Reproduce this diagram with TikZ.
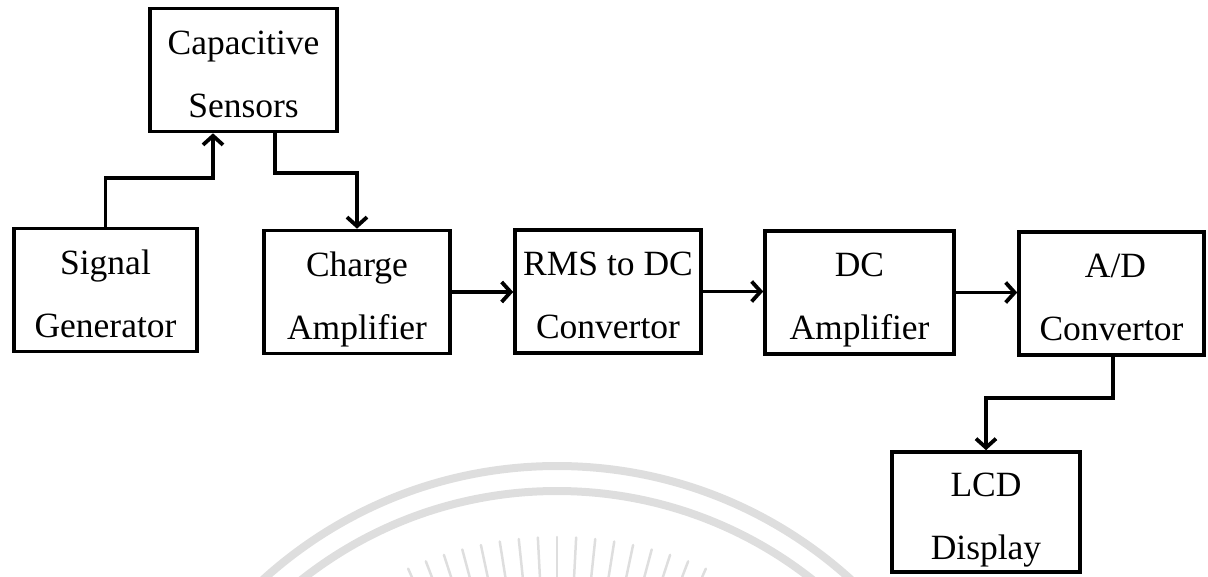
\documentclass[tikz,border=0pt]{standalone}
\usepackage{fontspec}
\setmainfont{Liberation Serif}
\usetikzlibrary{arrows.meta}
\begin{document}
\begin{tikzpicture}[x=1pt,y=-1pt,
  blk/.style={draw=black, line width=3.6pt, rectangle, inner sep=0pt, minimum width=#1, minimum height=123pt},
  blk/.default=188pt,
  txt/.style={font=\fontsize{35.5}{42}\selectfont, inner sep=0pt, anchor=base},
  arr/.style={draw=black, line width=3.8pt, -{Straight Barb[length=9pt,width=20pt]}},
  wm/.style={draw=black!13, line width=8pt},
  ray/.style={draw=black!13, line width=2.5pt, line cap=round}]
\useasboundingbox (0,0) rectangle (1208,576);
% watermark
\begin{scope}
  \clip (0,0) rectangle (1208,576);
  \coordinate (wc) at (557,903);
  \draw[wm] ([shift={(180:437)}]wc) arc[start angle=180, end angle=360, radius=437];
  \draw[wm] ([shift={(180:412)}]wc) arc[start angle=180, end angle=360, radius=412];
  \foreach \a in {246,249,...,294}
    \draw[ray] ([shift={(\a:322)}]wc) -- ([shift={(\a:366)}]wc);
\end{scope}
% boxes
\node[blk=187pt] (cap) at (243.5,70) {};
\node[blk=183pt] (sig) at (105.5,290) {};
\node[blk=186pt] (chg) at (357,292) {};
\node[blk=186pt] (rms) at (608,291.5) {};
\node[blk=189pt] (dca) at (859.5,292.5) {};
\node[blk=185pt] (adc) at (1111.5,293.5) {};
\node[blk=188pt, minimum height=120pt] (lcd) at (986,512) {};
% texts
\node[txt] (cap1) at ([yshift=16pt]cap.center) {Capacitive};
\node[txt] (cap2) at ([yshift=-47pt]cap.center) {Sensors};
\node[txt] (sig1) at ([yshift=16pt]sig.center) {Signal};
\node[txt] (sig2) at ([yshift=-47pt]sig.center) {Generator};
\node[txt] (chg1) at ([yshift=16pt]chg.center) {Charge};
\node[txt] (chg2) at ([yshift=-47pt]chg.center) {Amplifier};
\node[txt] (rms1) at ([yshift=16pt]rms.center) {RMS to DC};
\node[txt] (rms2) at ([yshift=-47pt]rms.center) {Convertor};
\node[txt] (dca1) at ([yshift=16pt]dca.center) {DC};
\node[txt] (dca2) at ([yshift=-47pt]dca.center) {Amplifier};
\node[txt] (adc1) at ([yshift=16pt,xshift=4pt]adc.center) {A/D};
\node[txt] (adc2) at ([yshift=-47pt]adc.center) {Convertor};
\node[txt] (lcd1) at ([yshift=16pt]lcd.center) {LCD};
\node[txt] (lcd2) at ([yshift=-47pt]lcd.center) {Display};
% connectors
\coordinate (j1) at (213,178);
\draw[arr] (sig.north) |- (j1) -- (j1 |- cap.south);
\coordinate (k1) at (275,173);
\draw[arr] (k1 |- cap.south) -- (k1) -| (chg.north);
\draw[arr] (chg.east) -- (chg.east -| rms.west);
\draw[arr] (rms.east) -- (rms.east -| dca.west);
\draw[arr] (dca.east) -- (dca.east -| adc.west);
\coordinate (m1) at (1113,398);
\draw[arr] (m1 |- adc.south) -- (m1) -| (lcd.north);
\end{tikzpicture}
\end{document}
